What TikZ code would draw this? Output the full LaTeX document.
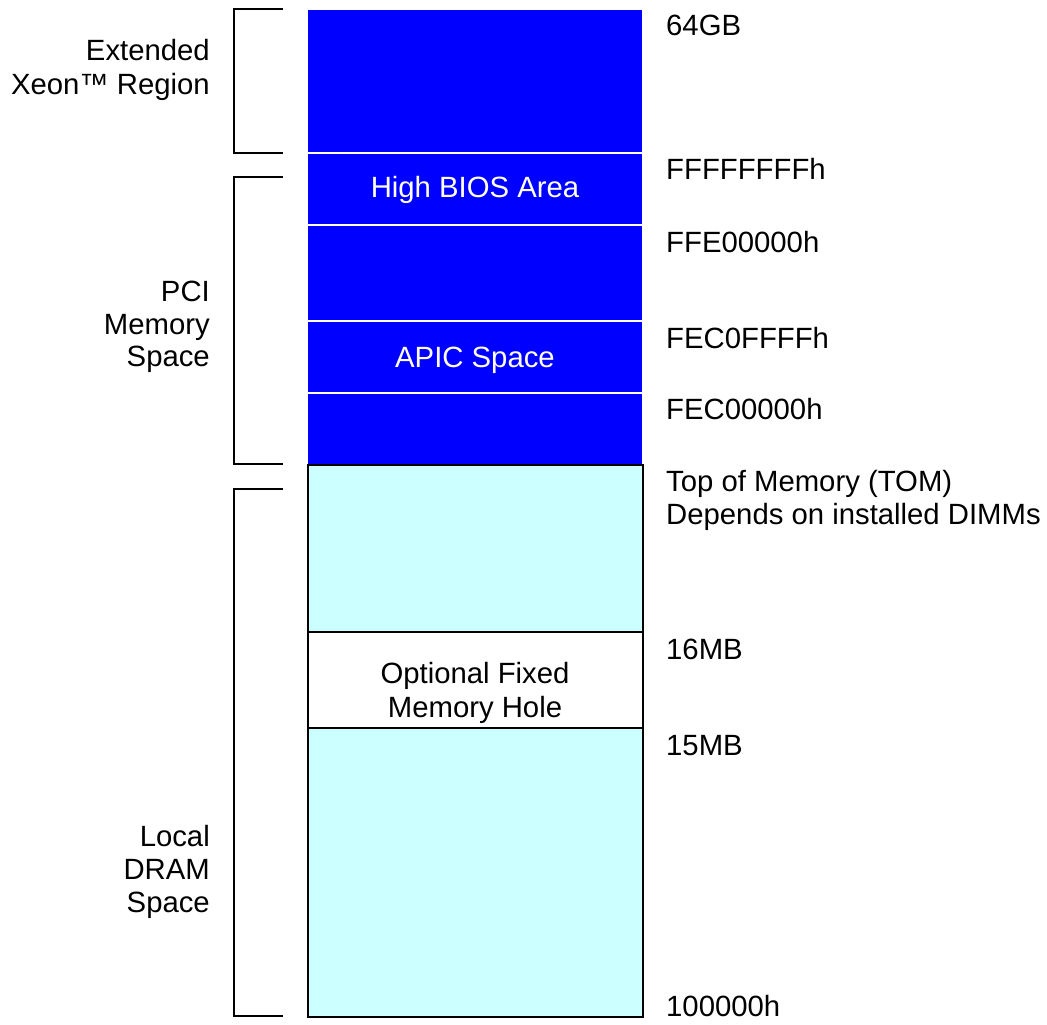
\documentclass[tikz,border=0pt]{standalone}
\usepackage{fontspec}
\setmainfont{Liberation Sans}
\definecolor{memblue}{RGB}{0,0,255}
\definecolor{dram}{RGB}{204,255,255}
\begin{document}
\begin{tikzpicture}[x=1pt,y=-1pt,
  lab/.style={font=\fontsize{29.3}{33}\selectfont, inner sep=0pt},
  rlab/.style={lab, anchor=base west},
  llab/.style={lab, anchor=base east},
  clab/.style={lab, anchor=base},
  sep/.style={white, line width=2.5pt},
  brk/.style={black, line width=2pt},
  frame/.style={draw=black, line width=2pt}]
\useasboundingbox (0,0) rectangle (1047,1025);
% PCI / extended blue column
\fill[memblue] (308,10) rectangle (642,464);
\draw[sep] (308,153) -- (642,153);
\draw[sep] (308,225) -- (642,225);
\draw[sep] (308,321) -- (642,321);
\draw[sep] (308,393) -- (642,393);
% local DRAM
\draw[frame, fill=dram] (307.5,465) rectangle (642.5,1017);
\draw[frame, fill=white] (307.5,632) rectangle (642.5,728);
% texts inside
\node[clab, white] (bios) at (475,197) {High BIOS Area};
\node[clab, white] (apic) at (475,367) {APIC Space};
\node[clab] (hole1) at (475,683) {Optional Fixed};
\node[clab] (hole2) at (475,717) {Memory Hole};
% brackets
\draw[brk] (283,9) -- (234,9) -- (234,153) -- (283,153);
\draw[brk] (283,177) -- (234,177) -- (234,464) -- (283,464);
\draw[brk] (283,489) -- (234,489) -- (234,1016) -- (283,1016);
% left labels
\node[llab] (ext1) at (210,61) {Extended};
\node[llab] (ext2) at (210,94) {Xeon™ Region};
\node[llab] (pci1) at (210,301) {PCI};
\node[llab] (pci2) at (210,334) {Memory};
\node[llab] (pci3) at (210,366) {Space};
\node[llab] (loc1) at (210,846) {Local};
\node[llab] (loc2) at (210,879) {DRAM};
\node[llab] (loc3) at (210,912) {Space};
% right labels
\node[rlab] (a64) at (666,36) {64GB};
\node[rlab] (a4g) at (666,179) {FFFFFFFFh};
\node[rlab] (afe) at (666,252) {FFE00000h};
\node[rlab] (aap) at (666,348) {FEC0FFFFh};
\node[rlab] (aa0) at (666,419) {FEC00000h};
\node[rlab] (tom1) at (666,491) {Top of Memory (TOM)};
\node[rlab] (tom2) at (666,524) {Depends on installed DIMMs};
\node[rlab] (a16) at (666,659) {16MB};
\node[rlab] (a15) at (666,755) {15MB};
\node[rlab] (a1m) at (666,1016) {100000h};
\end{tikzpicture}
\end{document}
